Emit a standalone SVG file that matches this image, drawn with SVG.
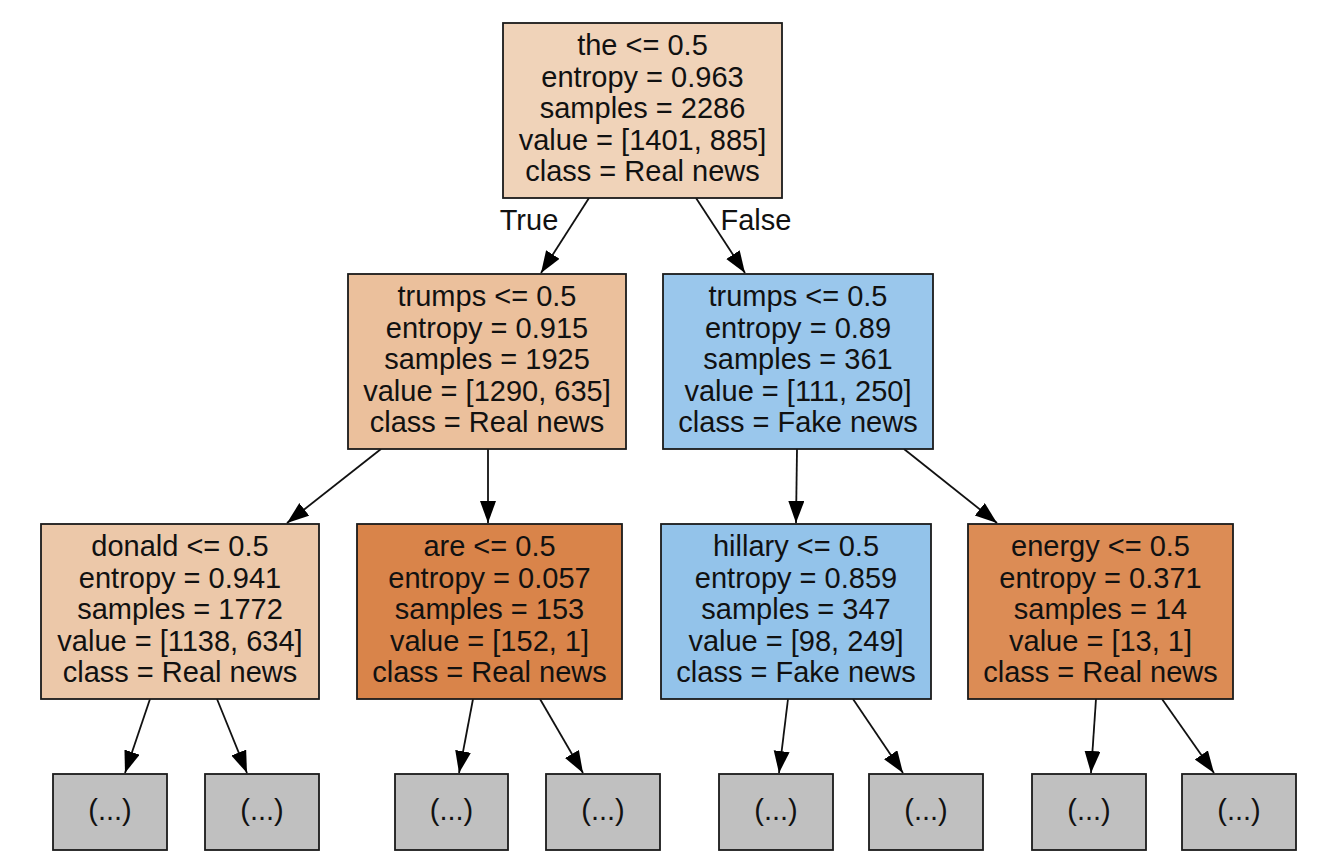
<svg xmlns="http://www.w3.org/2000/svg" width="1328" height="868" viewBox="0 0 1328 868">
<style>
.box{stroke:#1a1a1a;stroke-width:1.8}
.t{font-family:"Liberation Sans",Arial,Helvetica,sans-serif;font-size:29px;fill:#111;text-anchor:middle}
.e{stroke:#111;stroke-width:1.8;fill:none;marker-end:url(#ah)}
.leaf{fill:#c0c0c0}
</style>
<defs>
<marker id="ah" markerUnits="userSpaceOnUse" markerWidth="24" markerHeight="18" refX="22" refY="8" orient="auto">
<path d="M0,0 L22,8 L0,16 z" fill="#000"/>
</marker>
</defs>
<rect width="1328" height="868" fill="#fff"/>
<g id="connectors">
<line class="e" x1="589" y1="198" x2="541" y2="273"/>
<line class="e" x1="696" y1="198" x2="745" y2="273"/>
<line class="e" x1="381" y1="449" x2="287" y2="523"/>
<line class="e" x1="488" y1="449" x2="488" y2="523"/>
<line class="e" x1="797" y1="449" x2="796" y2="523"/>
<line class="e" x1="904" y1="449" x2="997" y2="523"/>
<line class="e" x1="150" y1="699" x2="125" y2="773"/>
<line class="e" x1="217" y1="699" x2="247" y2="773"/>
<line class="e" x1="473" y1="699" x2="459" y2="773"/>
<line class="e" x1="540" y1="699" x2="583" y2="773"/>
<line class="e" x1="788" y1="699" x2="779" y2="773"/>
<line class="e" x1="853" y1="699" x2="903" y2="773"/>
<line class="e" x1="1096" y1="699" x2="1091" y2="773"/>
<line class="e" x1="1162" y1="699" x2="1214" y2="773"/>
<text class="t" x="529" y="230">True</text>
<text class="t" x="756" y="230">False</text>
</g>
<g id="n0">
<rect class="box" x="503" y="23" width="279" height="175" fill="#f0d3b9"/>
<text class="t" x="642.5" y="55">the &lt;= 0.5</text>
<text class="t" x="642.5" y="86.5">entropy = 0.963</text>
<text class="t" x="642.5" y="118">samples = 2286</text>
<text class="t" x="642.5" y="149.5">value = [1401, 885]</text>
<text class="t" x="642.5" y="181">class = Real news</text>
</g>
<g id="n1">
<rect class="box" x="348" y="274" width="278" height="175" fill="#ebc09c"/>
<text class="t" x="487" y="306">trumps &lt;= 0.5</text>
<text class="t" x="487" y="337.5">entropy = 0.915</text>
<text class="t" x="487" y="369">samples = 1925</text>
<text class="t" x="487" y="400.5">value = [1290, 635]</text>
<text class="t" x="487" y="432">class = Real news</text>
</g>
<g id="n2">
<rect class="box" x="663" y="274" width="270" height="175" fill="#9ac7ec"/>
<text class="t" x="798" y="306">trumps &lt;= 0.5</text>
<text class="t" x="798" y="337.5">entropy = 0.89</text>
<text class="t" x="798" y="369">samples = 361</text>
<text class="t" x="798" y="400.5">value = [111, 250]</text>
<text class="t" x="798" y="432">class = Fake news</text>
</g>
<g id="n3">
<rect class="box" x="41" y="524" width="278" height="175" fill="#ecc8a9"/>
<text class="t" x="180" y="556">donald &lt;= 0.5</text>
<text class="t" x="180" y="587.5">entropy = 0.941</text>
<text class="t" x="180" y="619">samples = 1772</text>
<text class="t" x="180" y="650.5">value = [1138, 634]</text>
<text class="t" x="180" y="682">class = Real news</text>
</g>
<g id="n4">
<rect class="box" x="357" y="524" width="265" height="175" fill="#d9844a"/>
<text class="t" x="489.5" y="556">are &lt;= 0.5</text>
<text class="t" x="489.5" y="587.5">entropy = 0.057</text>
<text class="t" x="489.5" y="619">samples = 153</text>
<text class="t" x="489.5" y="650.5">value = [152, 1]</text>
<text class="t" x="489.5" y="682">class = Real news</text>
</g>
<g id="n5">
<rect class="box" x="661" y="524" width="270" height="175" fill="#93c3ea"/>
<text class="t" x="796" y="556">hillary &lt;= 0.5</text>
<text class="t" x="796" y="587.5">entropy = 0.859</text>
<text class="t" x="796" y="619">samples = 347</text>
<text class="t" x="796" y="650.5">value = [98, 249]</text>
<text class="t" x="796" y="682">class = Fake news</text>
</g>
<g id="n6">
<rect class="box" x="968" y="524" width="265" height="175" fill="#dc8c55"/>
<text class="t" x="1100.5" y="556">energy &lt;= 0.5</text>
<text class="t" x="1100.5" y="587.5">entropy = 0.371</text>
<text class="t" x="1100.5" y="619">samples = 14</text>
<text class="t" x="1100.5" y="650.5">value = [13, 1]</text>
<text class="t" x="1100.5" y="682">class = Real news</text>
</g>
<g id="l1"><rect class="box leaf" x="53" y="774" width="114" height="76"/><text class="t" x="110" y="820">(...)</text></g>
<g id="l2"><rect class="box leaf" x="205" y="774" width="114" height="76"/><text class="t" x="262" y="820">(...)</text></g>
<g id="l3"><rect class="box leaf" x="395" y="774" width="113" height="76"/><text class="t" x="451.5" y="820">(...)</text></g>
<g id="l4"><rect class="box leaf" x="546" y="774" width="114" height="76"/><text class="t" x="603" y="820">(...)</text></g>
<g id="l5"><rect class="box leaf" x="719" y="774" width="114" height="76"/><text class="t" x="776" y="820">(...)</text></g>
<g id="l6"><rect class="box leaf" x="869" y="774" width="114" height="76"/><text class="t" x="926" y="820">(...)</text></g>
<g id="l7"><rect class="box leaf" x="1032" y="774" width="114" height="76"/><text class="t" x="1089" y="820">(...)</text></g>
<g id="l8"><rect class="box leaf" x="1182" y="774" width="114" height="76"/><text class="t" x="1239" y="820">(...)</text></g>
</svg>
